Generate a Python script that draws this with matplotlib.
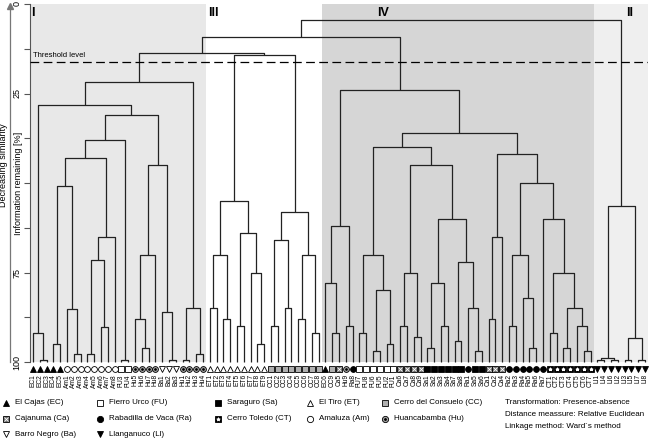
import matplotlib.pyplot as plt
from matplotlib.lines import Line2D

plt.rcParams['font.family'] = ['Liberation Sans', 'DejaVu Sans']

# leaf order (left to right) per cluster group
leaves_I = ['EC1', 'EC2', 'EC3', 'EC4', 'EC5', 'Am1', 'Am2', 'Am3', 'Am4', 'Am5', 'Am6', 'Am7', 'Am8',
            'FU3', 'FU4', 'Hu5', 'Hu6', 'Hu7', 'Hu8', 'Ba1', 'Ba2', 'Ba3', 'Hu1', 'Hu2', 'Hu3', 'Hu4']
leaves_III = ['ET1', 'ET2', 'ET3', 'ET4', 'ET5', 'ET6', 'ET7', 'ET8', 'ET9',
              'CC1', 'CC2', 'CC3', 'CC4', 'CC5', 'CC6', 'CC7', 'CC8']
leaves_IV = ['EC6', 'CC9', 'Ca5', 'Hu9', 'Ra8', 'FU7', 'FU8', 'FU6', 'FU5', 'FU2', 'FU1',
             'Ca6', 'Ca7', 'Ca8', 'Ca9', 'Sa1', 'Sa2', 'Sa3', 'Sa4', 'Sa7', 'Sa8', 'Ra1', 'Sa5', 'Sa6',
             'Ca1', 'Ca2', 'Ca4', 'Ra2', 'Ra3', 'Ra4', 'Ra5', 'Ra6', 'Ra7',
             'CT1', 'CT2', 'CT3', 'CT4', 'CT5', 'CT6', 'CT7']
leaves_II = ['LI1', 'LI4', 'LI6', 'LI2', 'LI3', 'LI5', 'LI7', 'LI8']

# merges: [information remaining %, left, right]
tree_I = [21.8,
          [28.3,
           [91.9, 'EC1', [99.4, 'EC2', 'EC3']],
           [31.1,
            [38.0,
             [43.0,
              [50.7, [95.0, 'EC4', 'EC5'], [85.2, 'Am1', [97.8, 'Am2', 'Am3']]],
              [65.0, [71.4, [97.8, 'Am4', 'Am5'], [90.2, 'Am6', 'Am7']], 'Am8']],
             [99.4, 'FU3', 'FU4']],
            [45.0, [70.0, [88.0, 'Hu5', [96.0, 'Hu6', 'Hu7']], 'Hu8'],
             [86.0, 'Ba1', [99.4, 'Ba2', 'Ba3']]]]],
          [85.0, [99.4, 'Hu1', 'Hu2'], [97.8, 'Hu3', 'Hu4']]]
tree_III = [14.3,
            [55.0, [70.0, [85.0, 'ET1', 'ET2'], [88.0, 'ET3', 'ET4']],
             [64.0, [90.0, 'ET5', 'ET6'], [75.0, 'ET7', [95.0, 'ET8', 'ET9']]]],
            [58.0, [66.0, [90.0, 'CC1', 'CC2'], [85.0, 'CC3', 'CC4']],
             [70.0, [88.0, 'CC5', 'CC6'], [92.0, 'CC7', 'CC8']]]]
tree_IV = [24.0,
           [62.0, [78.0, 'EC6', [92.0, 'CC9', 'Ca5']], [90.0, 'Hu9', 'Ra8']],
           [36.0,
            [40.0,
             [70.0, [92.0, 'FU7', 'FU8'], [80.0, [97.0, 'FU6', 'FU5'], [95.0, 'FU2', 'FU1']]],
             [45.0, [75.0, [90.0, 'Ca6', 'Ca7'], [93.0, 'Ca8', 'Ca9']],
              [60.0, [78.0, [96.0, 'Sa1', 'Sa2'], [90.0, 'Sa3', 'Sa4']],
               [72.0, [94.0, 'Sa7', 'Sa8'], [85.0, 'Ra1', [97.0, 'Sa5', 'Sa6']]]]]],
            [42.0,
             [65.0, [88.0, 'Ca1', 'Ca2'], 'Ca4'],
             [50.0, [70.0, [90.0, 'Ra2', 'Ra3'], [82.0, 'Ra4', [96.0, 'Ra5', 'Ra6']]],
              [60.0, 'Ra7', [75.0, [92.0, 'CT1', 'CT2'], [85.0, [96.0, 'CT3', 'CT4'],
                                                           [90.0, 'CT5', [97.0, 'CT6', 'CT7']]]]]]]]]
tree_II = [56.3, [99.0, [99.5, 'LI1', 'LI4'], [99.5, 'LI6', 'LI2']],
           [93.3, [99.5, 'LI3', 'LI5'], [99.5, 'LI7', 'LI8']]]
tree_root = [4.5, [9.2, [13.7, tree_I, tree_III], tree_IV], tree_II]

threshold = 16.2
groups = ['I', 'III', 'IV', 'II']
group_label_at = [-0.3, 25.7, 50.6, 87.3]   # leaf position of the roman numerals
group_colors = ['#e8e8e8', '#ffffff', '#d6d6d6', '#efefef']

# marker styles per locality code
styles = {
    'EC': dict(marker='^', mfc='black', mec='black'),
    'FU': dict(marker='s', mfc='white', mec='black'),
    'Sa': dict(marker='s', mfc='black', mec='black'),
    'ET': dict(marker='^', mfc='white', mec='black'),
    'CC': dict(marker='s', mfc='#b0b0b0', mec='black'),
    'Ca': dict(marker='s', mfc='#707070', mec='black'),
    'Ra': dict(marker='o', mfc='black', mec='black'),
    'CT': dict(marker='s', mfc='black', mec='black'),
    'Am': dict(marker='o', mfc='white', mec='black'),
    'Hu': dict(marker='o', mfc='#a0a0a0', mec='black'),
    'Ba': dict(marker='v', mfc='white', mec='black'),
    'LI': dict(marker='v', mfc='black', mec='black'),
}
overlay = {'Ca': ('x', 'white'), 'CT': ('*', 'white'), 'Hu': ('.', 'black')}
legend_order = [('EC', 'El Cajas (EC)'), ('FU', 'Fierro Urco (FU)'), ('Sa', 'Saraguro (Sa)'),
                ('ET', 'El Tiro (ET)'), ('CC', 'Cerro del Consuelo (CC)'),
                ('Ca', 'Cajanuma (Ca)'), ('Ra', 'Rabadilla de Vaca (Ra)'), ('CT', 'Cerro Toledo (CT)'),
                ('Am', 'Amaluza (Am)'), ('Hu', 'Huancabamba (Hu)'),
                ('Ba', 'Barro Negro (Ba)'), ('LI', 'Llanganuco (Ll)')]
method_text = ['Transformation: Presence-absence',
               'Distance meassure: Relative Euclidean',
               'Linkage method: Ward\u00b4s method']

leaves = leaves_I + leaves_III + leaves_IV + leaves_II
pos = {name: i for i, name in enumerate(leaves)}
n = len(leaves)

W, H = 650, 438
fig = plt.figure(figsize=(W / 100, H / 100), dpi=100)
ax = fig.add_axes([30 / W, 1 - 362 / H, 618 / W, 358 / H])
ax.set_xlim(-0.45, n - 0.55)
ax.set_ylim(100, 0)

# group background bands
edges = [0, len(leaves_I), len(leaves_I) + len(leaves_III),
         len(leaves_I) + len(leaves_III) + len(leaves_IV), n]
for k in range(4):
    lo = edges[k] - 0.5 if k > 0 else -0.45
    hi = edges[k + 1] - 0.5 if k < 3 else n - 0.55
    ax.axvspan(lo, hi, color=group_colors[k], zorder=0, lw=0)
    ax.text(group_label_at[k], 2.6, groups[k], fontsize=9, fontweight='bold', va='center', ha='left')


def draw(node):
    if isinstance(node, str):
        return pos[node], 100.0
    h, left, right = node
    xl, hl = draw(left)
    xr, hr = draw(right)
    ax.plot([xl, xl, xr, xr], [hl, h, h, hr], color='#222222', lw=0.9, zorder=3,
            solid_capstyle='butt', clip_on=False)
    return (xl + xr) / 2, h


draw(tree_root)

ax.axhline(threshold, color='black', lw=0.9, ls=(0, (7, 3.5)), zorder=4)
ax.text(0.0, threshold - 0.9, 'Threshold level', fontsize=5.5, va='bottom', ha='left')

# leaf markers and labels
for name in leaves:
    code = name[:2]
    ax.plot(pos[name], 102.0, ms=4.2, mew=0.6, clip_on=False, zorder=5, **styles[code])
    if code in overlay:
        m, c = overlay[code]
        ax.plot(pos[name], 102.0, marker=m, ms=2.5, color=c, mew=0.6, clip_on=False, zorder=6)
    ax.text(pos[name], 103.4, name, rotation=90, fontsize=4.8, ha='center', va='top', clip_on=False)

for s in ['top', 'right', 'bottom']:
    ax.spines[s].set_visible(False)
ax.spines['left'].set_color('#555555')
ax.set_xticks([])
ax.set_yticks([0, 12.5, 25, 37.5, 50, 62.5, 75, 87.5, 100])
ax.set_yticklabels(['0', '', '25', '', '', '', '75', '', '100'], rotation=90, va='center', fontsize=6.5)
ax.tick_params(axis='y', length=4, width=0.8, color='#555555', pad=2)
ax.text(-0.019, 50, 'Information remaining [%]', transform=ax.get_yaxis_transform(),
        rotation=90, ha='center', va='center', fontsize=6.5)

# decreasing similarity arrow
fig.add_artist(plt.Line2D([10 / W, 10 / W], [1 - 362 / H, 1 - 10 / H], color='#777777', lw=0.9))
fig.add_artist(plt.Line2D([10 / W], [1 - 6 / H], marker='^', color='#777777', ms=4))
fig.text(4 / W, 1 - 165 / H, 'Decreasing similarity', rotation=90, ha='center', va='center', fontsize=6.5)

# legend
col_x = [6, 100, 218, 310, 385]
row_y = [403, 419, 434]
for k, (code, label) in enumerate(legend_order):
    r, c = divmod(k, 5)
    x, y = col_x[c] / W, 1 - row_y[r] / H
    fig.add_artist(Line2D([x], [y], ms=4.5, mew=0.6, **styles[code]))
    if code in overlay:
        m, col = overlay[code]
        fig.add_artist(Line2D([x], [y], marker=m, ms=2.7, color=col, mew=0.6))
    fig.text(x + 9 / W, y, label, fontsize=5.8, va='center', ha='left')
for k, t in enumerate(method_text):
    fig.text(505 / W, 1 - (402 + 12 * k) / H, t, fontsize=5.8, va='center', ha='left')

fig.savefig('out.png', dpi=100)
